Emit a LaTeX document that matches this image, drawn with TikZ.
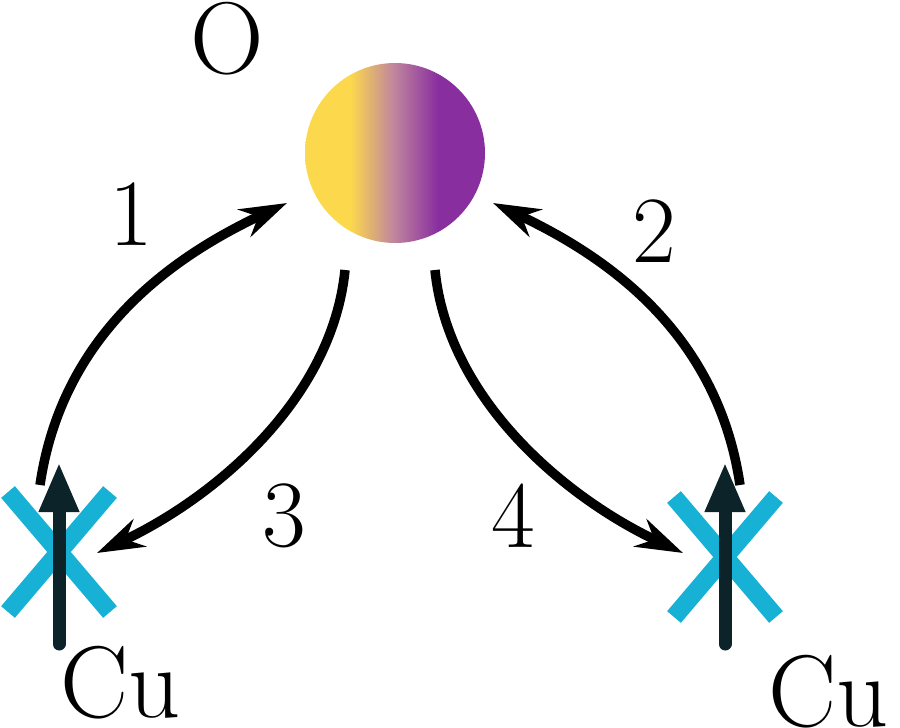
\documentclass[tikz,border=0pt]{standalone}
\usepackage{fontspec}
\usetikzlibrary{arrows.meta}

\definecolor{oyellow}{RGB}{252,216,76}
\definecolor{omauve}{RGB}{192,134,158}
\definecolor{opurple}{RGB}{137,46,159}
\definecolor{cucyan}{RGB}{23,177,214}
\definecolor{spindark}{RGB}{13,35,42}
\pgfdeclarehorizontalshading{oxshade}{100bp}{color(0bp)=(oyellow); color(37.6bp)=(oyellow);
  color(49.6bp)=(omauve); color(61.9bp)=(opurple); color(100bp)=(opurple)}

\begin{document}
\begin{tikzpicture}[
  x=1pt, y=-1pt,
  hop/.style={-{Stealth[length=47pt,width=30pt]},line width=9.5pt},
  ligand/.style={line width=18pt,cucyan},
  spin/.style={-{Triangle[length=50pt,width=37pt]},line width=13pt,line cap=round,spindark},
  site/.style={inner sep=0pt,font=\fontsize{102}{110}\selectfont},
  hoplabel/.style={inner sep=0pt,font=\fontsize{95}{100}\selectfont}
]
  \useasboundingbox (0,0) rectangle (900,728);
  \node[circle,minimum size=180pt,inner sep=0pt,shading=oxshade] (oxy) at (395,153) {};
  \node[site] (olabel) at (227,39) {O};
  \coordinate (cuL) at (59,552);
  \coordinate (cuR) at (725,557);
  % copper sites
  \foreach \c in {cuL,cuR}
    \draw[ligand] (\c) ++(-51,-60) -- ++(102,120) (\c) ++(51,-60) -- ++(-102,120);
  \foreach \x in {59,725}
    \draw[spin] (\x,644) -- (\x,462);
  \node[site,anchor=base west] (cuLlabel) at (60,717) {Cu};
  \node[site,anchor=base west] (cuRlabel) at (768,726) {Cu};
  % hopping paths
  \coordinate (s1) at (40,485);  \coordinate (t1) at (287,203);
  \coordinate (s2) at (740,485); \coordinate (t2) at (493,203);
  \coordinate (s3) at (345,270); \coordinate (t3) at (97,553);
  \coordinate (s4) at (435,270); \coordinate (t4) at (683,553);
  \draw[hop] (s1) .. controls (62,335) and (170,258) .. (t1);
  \draw[hop] (s2) .. controls (718,335) and (610,258) .. (t2);
  \draw[hop] (s3) .. controls (332,400) and (214,498) .. (t3);
  \draw[hop] (s4) .. controls (448,400) and (566,498) .. (t4);
  \node[hoplabel] (n1) at (131,214) {1};
  \node[hoplabel] (n2) at (654,231) {2};
  \node[hoplabel] (n3) at (284,516) {3};
  \node[hoplabel] (n4) at (513,516) {4};
\end{tikzpicture}
\end{document}
